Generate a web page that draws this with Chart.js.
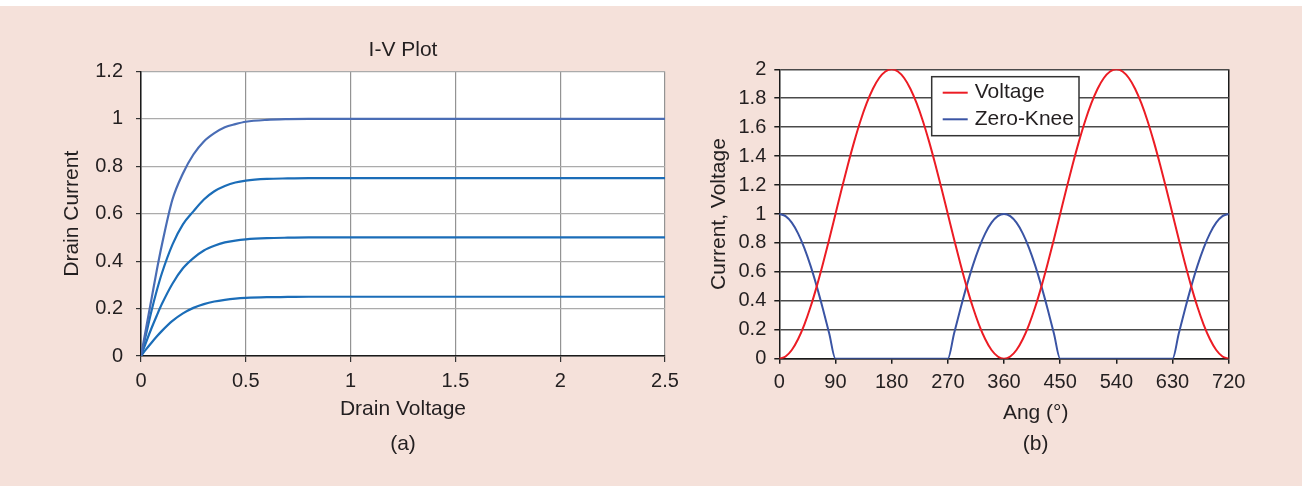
<!DOCTYPE html>
<html>
<head>
<meta charset="utf-8">
<title>I-V Plot and waveforms</title>
<script src="https://cdn.jsdelivr.net/npm/chart.js@4.4.1/dist/chart.umd.min.js"></script>
<style>
  html, body { margin: 0; padding: 0; background: #fff; }
  body { width: 1304px; height: 486px; position: relative; overflow: hidden; }
  #panel { position: absolute; left: 0; top: 6px; width: 1302px; height: 480px; background: #f5e1da; }
  #canvas1 { position: absolute; left: 0; top: 0; }
  #canvas2 { position: absolute; left: 690px; top: 0; }
</style>
</head>
<body>
<div id="panel"></div>
<canvas id="canvas1" width="690" height="486"></canvas>
<canvas id="canvas2" width="614" height="486"></canvas>
<script>
/* data for (a): drain current against drain voltage, four curves */
const drainVoltage = [0, 0.025, 0.05, 0.075, 0.1, 0.15, 0.2, 0.25, 0.3, 0.35, 0.4, 0.45, 0.5, 0.6, 0.7, 0.8, 1, 1.5, 2, 2.5]
const currentTop = [0, 0.12, 0.24, 0.36, 0.47, 0.66, 0.77, 0.85, 0.905, 0.94, 0.965, 0.978, 0.988, 0.996, 0.999, 1, 1, 1, 1, 1]
const current075 = [0, 0.095, 0.19, 0.275, 0.35, 0.47, 0.555, 0.61, 0.66, 0.695, 0.717, 0.732, 0.74, 0.747, 0.749, 0.75, 0.75, 0.75, 0.75, 0.75]
const current050 = [0, 0.06, 0.117, 0.17, 0.22, 0.305, 0.37, 0.413, 0.445, 0.465, 0.479, 0.487, 0.492, 0.497, 0.499, 0.5, 0.5, 0.5, 0.5, 0.5]
const current025 = [0, 0.029, 0.056, 0.082, 0.106, 0.148, 0.18, 0.203, 0.219, 0.23, 0.237, 0.242, 0.245, 0.248, 0.249, 0.25, 0.25, 0.25, 0.25, 0.25]

/* data for (b): voltage and zero-knee current against angle */
const angles = [0, 10, 20, 30, 40, 50, 60, 70, 80, 90, 100, 110, 120, 130, 140, 150, 160, 170, 180,
  190, 200, 210, 220, 230, 240, 250, 260, 270, 280, 290, 300, 310, 320, 330, 340, 350, 360,
  370, 380, 390, 400, 410, 420, 430, 440, 450, 460, 470, 480, 490, 500, 510, 520, 530, 540,
  550, 560, 570, 580, 590, 600, 610, 620, 630, 640, 650, 660, 670, 680, 690, 700, 710, 720]
const voltage = [0, 0.015, 0.06, 0.134, 0.234, 0.357, 0.5, 0.658, 0.826, 1, 1.174, 1.342, 1.5, 1.643, 1.766, 1.866, 1.94, 1.985, 2,
  1.985, 1.94, 1.866, 1.766, 1.643, 1.5, 1.342, 1.174, 1, 0.826, 0.658, 0.5, 0.357, 0.234, 0.134, 0.06, 0.015, 0,
  0.015, 0.06, 0.134, 0.234, 0.357, 0.5, 0.658, 0.826, 1, 1.174, 1.342, 1.5, 1.643, 1.766, 1.866, 1.94, 1.985, 2,
  1.985, 1.94, 1.866, 1.766, 1.643, 1.5, 1.342, 1.174, 1, 0.826, 0.658, 0.5, 0.357, 0.234, 0.134, 0.06, 0.015, 0]
const zeroKnee = [1, 0.985, 0.94, 0.866, 0.766, 0.643, 0.5, 0.342, 0.174, 0, 0, 0, 0, 0, 0, 0, 0, 0, 0,
  0, 0, 0, 0, 0, 0, 0, 0, 0, 0.174, 0.342, 0.5, 0.643, 0.766, 0.866, 0.94, 0.985, 1,
  0.985, 0.94, 0.866, 0.766, 0.643, 0.5, 0.342, 0.174, 0, 0, 0, 0, 0, 0, 0, 0, 0, 0,
  0, 0, 0, 0, 0, 0, 0, 0, 0, 0.174, 0.342, 0.5, 0.643, 0.766, 0.866, 0.94, 0.985, 1]

const textColor = '#231f20'
const family = '"Liberation Sans", Arial, Helvetica, sans-serif'
const tickFont = { family: family, size: 20 }
const titleFont = { family: family, size: 21 }

function points(xs, ys) {
  return xs.map((x, i) => ({ x: x, y: ys[i] }))
}

// 1 and 2 rather than 1.0 and 2.0
function plainNumber(v) {
  return String(Math.round(v * 100) / 100)
}

// white plot area on the pink panel
const plotBackground = {
  id: 'plotBackground',
  beforeDraw(chart) {
    const { ctx, chartArea: a } = chart
    ctx.save()
    ctx.fillStyle = '#fff'
    ctx.fillRect(a.left, a.top, a.right - a.left, a.bottom - a.top)
    ctx.restore()
  }
}

// free text placed from the plot centre: "I-V Plot", "(a)", "(b)", "Ang (°)"
const captions = {
  id: 'captions',
  afterDraw(chart, args, opts) {
    const { ctx, chartArea: a } = chart
    const cx = (a.left + a.right) / 2
    ctx.save()
    ctx.font = '21px ' + family
    ctx.fillStyle = textColor
    ctx.textAlign = 'center'
    ctx.textBaseline = 'middle'
    opts.items.forEach(it => ctx.fillText(it.text, cx + it.dx, it.y))
    ctx.restore()
  }
}

// boxed legend inside the plot of (b)
const boxLegend = {
  id: 'boxLegend',
  afterDraw(chart, args, opts) {
    const { ctx, chartArea: a } = chart
    const x = a.left + opts.left
    const y = a.top + opts.top
    ctx.save()
    ctx.fillStyle = '#fff'
    ctx.fillRect(x, y, opts.width, opts.height)
    ctx.strokeStyle = '#333'
    ctx.lineWidth = 1.5
    ctx.strokeRect(x, y, opts.width, opts.height)
    ctx.font = '21px ' + family
    ctx.textAlign = 'left'
    ctx.textBaseline = 'middle'
    chart.data.datasets.forEach((ds, i) => {
      const ry = y + opts.firstRow + i * opts.rowGap
      ctx.strokeStyle = ds.borderColor
      ctx.lineWidth = ds.borderWidth
      ctx.beginPath()
      ctx.moveTo(x + 11, ry)
      ctx.lineTo(x + 36, ry)
      ctx.stroke()
      ctx.fillStyle = textColor
      ctx.fillText(ds.label, x + 43, ry)
    })
    ctx.restore()
  }
}

/* (a) I-V plot */
let ctx1 = document.getElementById('canvas1').getContext('2d')
const ivLine = { pointRadius: 0, borderWidth: 2.2, fill: false, cubicInterpolationMode: 'monotone' }
new Chart(ctx1, {
  type: 'line',
  data: {
    datasets: [
      Object.assign({ label: 'Id 1.0', data: points(drainVoltage, currentTop), borderColor: '#4a6db5' }, ivLine),
      Object.assign({ label: 'Id 0.75', data: points(drainVoltage, current075), borderColor: '#1b6db8' }, ivLine),
      Object.assign({ label: 'Id 0.5', data: points(drainVoltage, current050), borderColor: '#1b6db8' }, ivLine),
      Object.assign({ label: 'Id 0.25', data: points(drainVoltage, current025), borderColor: '#1b6db8' }, ivLine)
    ]
  },
  options: {
    responsive: false,
    animation: false,
    layout: { padding: { top: 71.5, left: 0, right: 25, bottom: 0 } },
    plugins: {
      legend: { display: false },
      tooltip: { enabled: false },
      captions: { items: [{ text: 'I-V Plot', dx: 0, y: 50.3 }, { text: '(a)', dx: 0, y: 444 }] }
    },
    scales: {
      x: {
        type: 'linear', min: 0, max: 2.5,
        ticks: { stepSize: 0.5, padding: 7, color: textColor, font: tickFont, maxRotation: 0, autoSkip: false, callback: plainNumber },
        grid: { color: '#939393', lineWidth: 1.2, tickLength: 6, tickColor: '#333' },
        border: { color: '#1a1a1a', width: 1.5 },
        title: { display: true, text: 'Drain Voltage', color: textColor, font: titleFont, padding: { top: 0, bottom: 64 } },
        afterFit(scale) { scale.height = 130 }
      },
      y: {
        min: 0, max: 1.2,
        ticks: { stepSize: 0.2, padding: 13, color: textColor, font: tickFont, autoSkip: false, callback: plainNumber },
        grid: { color: '#ababab', lineWidth: 1.2, tickLength: 5, tickColor: '#333' },
        border: { color: '#1a1a1a', width: 1.5 },
        title: { display: true, text: 'Drain Current', color: textColor, font: titleFont, padding: { top: 60, bottom: 0 } },
        afterFit(scale) { scale.width = 141 }
      }
    }
  },
  plugins: [plotBackground, captions]
})

/* (b) voltage and zero-knee current */
let ctx2 = document.getElementById('canvas2').getContext('2d')
new Chart(ctx2, {
  type: 'line',
  data: {
    datasets: [
      { label: 'Voltage', data: points(angles, voltage), borderColor: '#ec1c24', borderWidth: 2, pointRadius: 0, cubicInterpolationMode: 'monotone' },
      { label: 'Zero-Knee', data: points(angles, zeroKnee), borderColor: '#3a54a4', borderWidth: 2, pointRadius: 0, cubicInterpolationMode: 'monotone' }
    ]
  },
  options: {
    responsive: false,
    animation: false,
    layout: { padding: { top: 69.3, left: 0, right: 75.3, bottom: 0 } },
    plugins: {
      legend: { display: false },
      tooltip: { enabled: false },
      boxLegend: { left: 152.4, top: 7.4, width: 147.3, height: 59, firstRow: 16, rowGap: 26.6 },
      captions: { items: [{ text: 'Ang (°)', dx: 31.7, y: 413 }, { text: '(b)', dx: 31.7, y: 444 }] }
    },
    scales: {
      x: {
        type: 'linear', min: 0, max: 720,
        ticks: { stepSize: 90, padding: 6.6, color: textColor, font: tickFont, maxRotation: 0, autoSkip: false, callback: plainNumber },
        grid: {
          color: c => (c.tick && c.tick.value === 720 ? '#1a1a1a' : 'rgba(0,0,0,0)'),
          lineWidth: 1.5, tickLength: 5, tickColor: '#1a1a1a'
        },
        border: { color: '#1a1a1a', width: 1.5 },
        afterFit(scale) { scale.height = 127.3 }
      },
      y: {
        min: 0, max: 2,
        ticks: { stepSize: 0.2, padding: 8, color: textColor, font: tickFont, autoSkip: false, callback: plainNumber },
        grid: { color: '#4a4a4a', lineWidth: 1.5, tickLength: 5, tickColor: '#1a1a1a' },
        border: { color: '#1a1a1a', width: 1.5 },
        title: { display: true, text: 'Current, Voltage', color: textColor, font: titleFont, padding: { top: 16.3, bottom: 0 } },
        afterFit(scale) { scale.width = 89.3 }
      }
    }
  },
  plugins: [plotBackground, boxLegend, captions]
})
</script>
</body>
</html>
